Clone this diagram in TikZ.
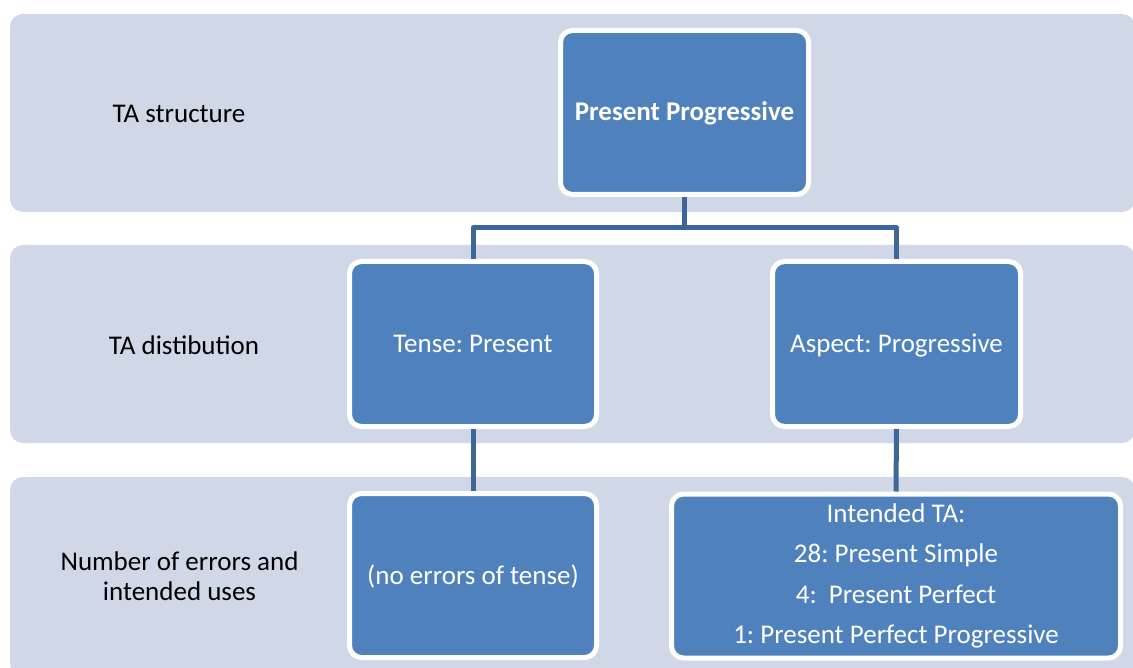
\documentclass[tikz,border=0pt]{standalone}
\usepackage{fontspec}
\setmainfont{Carlito}
\frenchspacing
\definecolor{bandc}{HTML}{D0D8E8}
\definecolor{boxc}{HTML}{4F81BD}
\definecolor{linec}{HTML}{3F6699}
\begin{document}
\begin{tikzpicture}[x=1pt,y=-1pt,
  band/.style={fill=bandc,rounded corners=13pt},
  blue box/.style={draw=white,line width=5pt,fill=boxc,rounded corners=12pt,
    text=white,align=center,font=\fontsize{27}{31}\selectfont\frenchspacing,inner sep=0pt},
  one line/.style={text height=17pt,text depth=0pt},
  label/.style={text=black,align=center,font=\fontsize{27}{30}\selectfont\frenchspacing},
  conn/.style={draw=linec,line width=5pt,line join=round}]
\useasboundingbox (0,0) rectangle (1133,668);
% bands
\path[band] (10,14) rectangle (1135,212);
\path[band] (10,245) rectangle (1135,443);
\path[band] (10,477) rectangle (1135,676);
% labels
\node[label] (l1) at (179,114) {TA structure};
\node[label] (l2) at (184,345) {TA distibution};
\node[label] (l3) at (179.5,576) {Number of errors and\\intended uses};
% boxes
\node[blue box,one line,minimum width=248pt,minimum height=164pt] (top) at (684.5,112.5) {\bfseries Present Progressive};
\node[blue box,one line,minimum width=247pt,minimum height=165pt] (tense) at (473,344) {Tense: Present};
\node[blue box,one line,minimum width=248pt,minimum height=165pt] (aspect) at (896.5,344) {Aspect: Progressive};
\node[blue box,one line,minimum width=247pt,minimum height=164pt] (noerr) at (473,575.5) {(no errors of tense)};
\node[blue box,minimum width=449pt,minimum height=164pt,font=\fontsize{27}{40.5}\selectfont\frenchspacing] (intended) at (896,576) {Intended TA:\\28: Present Simple\\4:\ \ Present Perfect\\1: Present Perfect Progressive};
% connectors
\coordinate (j) at (684.5,228);
\draw[conn] (top.south) -- (j);
\draw[conn] (tense.north) |- (j) -| (aspect.north);
\draw[conn] (tense.south) -- (noerr.north);
\draw[conn] (aspect.south) -- (intended.north);
\end{tikzpicture}
\end{document}
